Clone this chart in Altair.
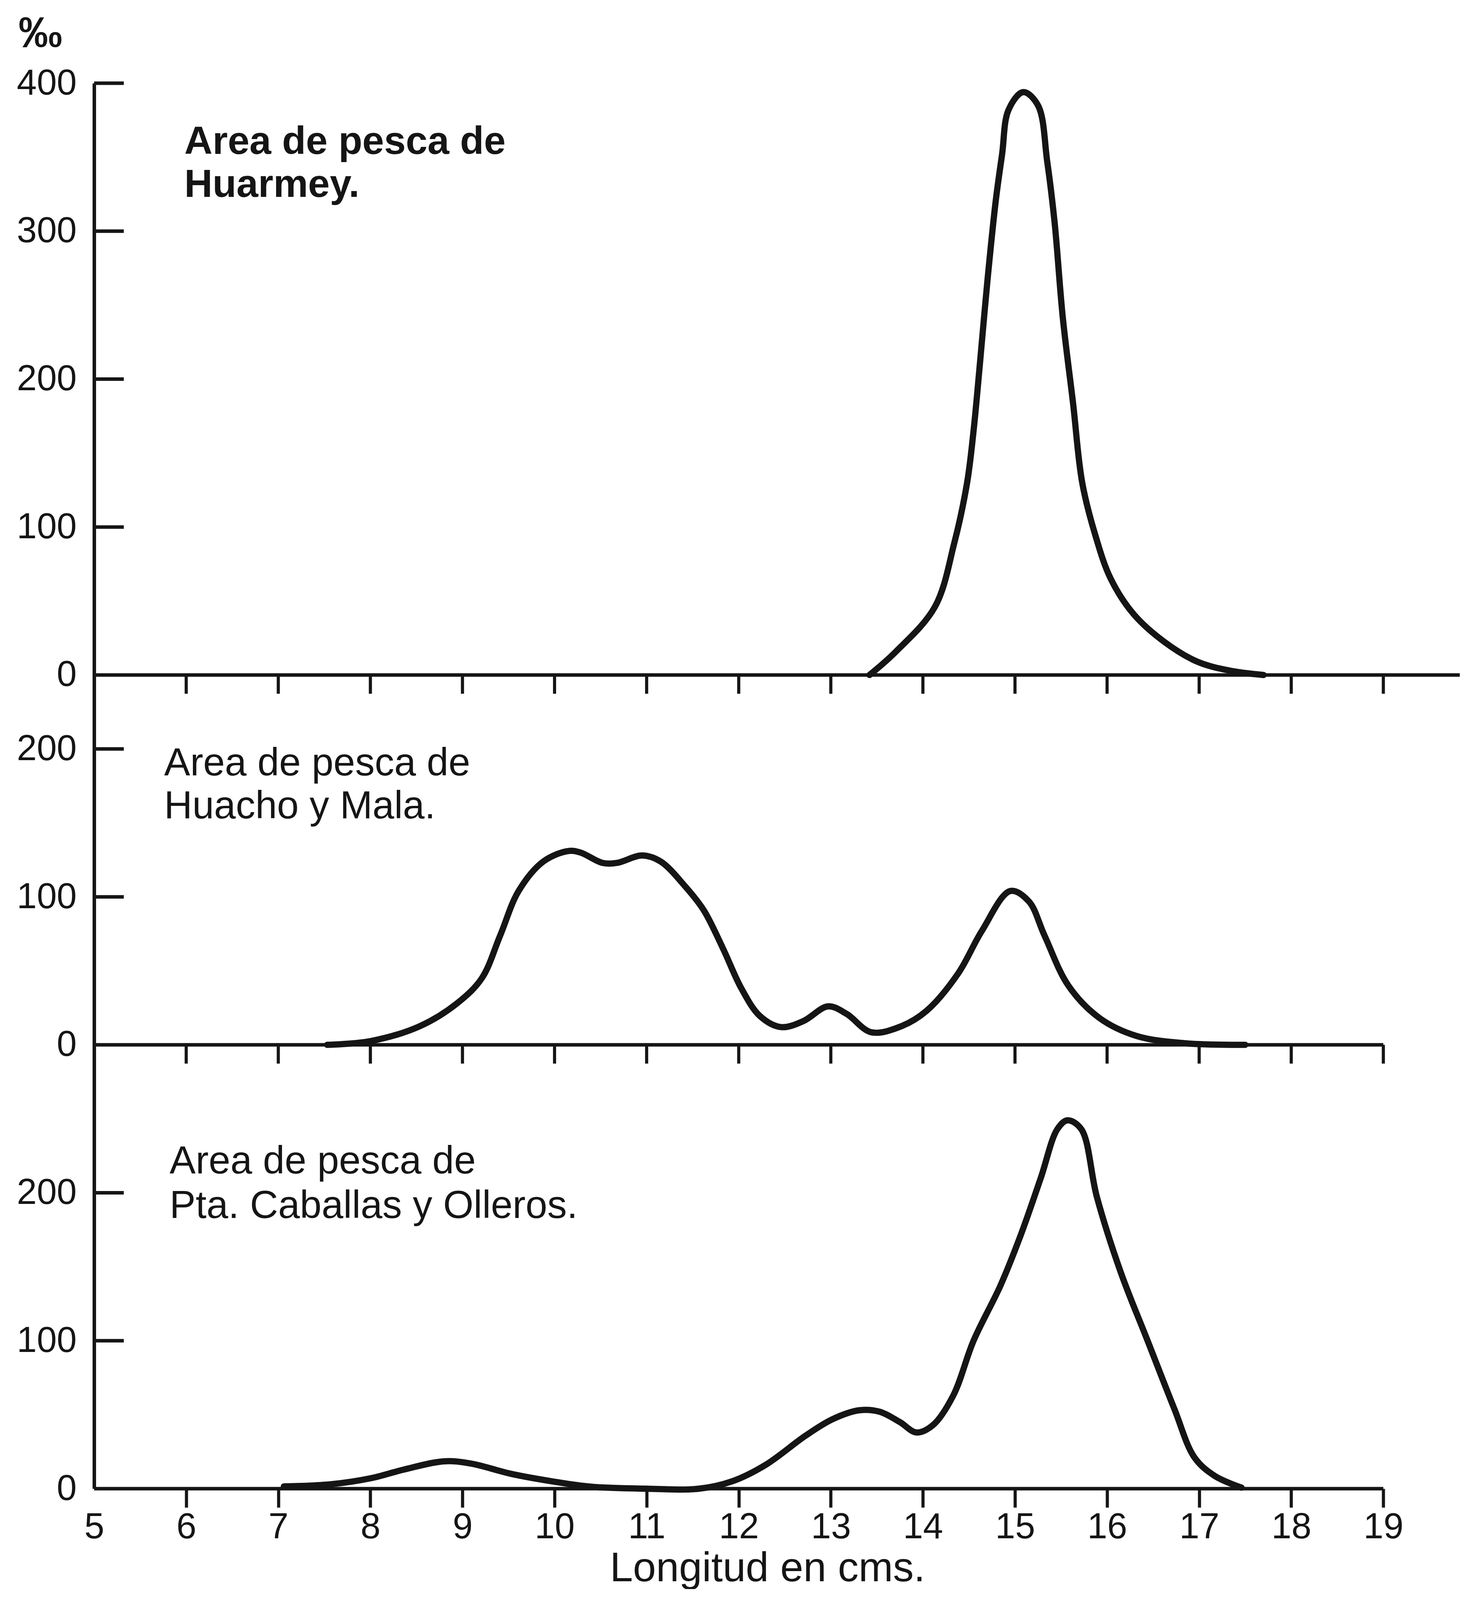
import altair as alt
import pandas as pd

# ---------------- data ----------------
x_tick_values = [5, 6, 7, 8, 9, 10, 11, 12, 13, 14, 15, 16, 17, 18, 19]

# Area de pesca de Huarmey
huarmey_x = [13.42, 13.71, 14.13, 14.34, 14.48, 14.55, 14.62, 14.70, 14.79, 14.86, 14.93,
             15.09, 15.25, 15.35, 15.43, 15.52, 15.63, 15.73, 15.87, 16.04, 16.29, 16.63,
             16.98, 17.33, 17.70]
huarmey_y = [0, 16, 46, 89, 130, 165, 211, 266, 320, 352, 382,
             394, 385, 347, 306, 241, 184, 130, 95, 65, 41, 22,
             9, 3, 0]
huarmey_yticks = [0, 100, 200, 300, 400]

# Area de pesca de Huacho y Mala
huacho_x = [7.53, 8.0, 8.54, 8.94, 9.21, 9.41, 9.61, 9.88, 10.15, 10.28, 10.52, 10.68,
            10.95, 11.15, 11.42, 11.62, 11.83, 12.03, 12.23, 12.46, 12.70, 12.97, 13.17,
            13.44, 13.77, 14.04, 14.38, 14.64, 14.95, 15.15, 15.32, 15.58, 15.92, 16.32,
            16.86, 17.50]
huacho_y = [0, 2.5, 12.7, 28, 45, 74, 104, 124, 131, 130, 123, 123,
            128, 124, 107, 91, 65, 38, 19.5, 12, 16, 26, 21,
            8.5, 12.7, 23, 48, 77, 104, 97, 74, 40, 18, 6,
            1, 0]
huacho_yticks = [0, 100, 200]

# Area de pesca de Pta. Caballas y Olleros
caballas_x = [7.06, 7.57, 8.0, 8.37, 8.80, 9.09, 9.53, 9.97, 10.40, 10.99, 11.57, 11.93,
              12.29, 12.73, 13.02, 13.31, 13.53, 13.75, 13.93, 14.11, 14.33, 14.55, 14.84,
              15.06, 15.28, 15.46, 15.57, 15.72, 15.89, 16.15, 16.44, 16.73, 16.95, 17.17,
              17.46]
caballas_y = [1.5, 3, 7, 13, 18.5, 17, 10, 5, 1.3, 0, 0, 5,
              16, 36, 47, 53, 52, 45, 38, 43, 63, 100, 137,
              171, 210, 243, 249, 243, 197, 146, 100, 54, 21, 8.6,
              0.7]
caballas_yticks = [0, 100, 200]

# three stacked panels: name, y offset of its baseline, x end of its baseline
panel_names = ["Huarmey", "Huacho y Mala", "Pta. Caballas y Olleros"]
panel_offsets = [550, 300, 0]
panel_x_end = [19.83, 19.0, 19.0]
panel_top = 950

# panel labels (text, x in cm, y in per mille of its own panel)
label_lines = ["Area de pesca de", "Huarmey.",
               "Area de pesca de", "Huacho y Mala.",
               "Area de pesca de", "Pta. Caballas y Olleros."]
label_panel = [0, 0, 1, 1, 2, 2]
label_x = [5.98, 5.98, 5.76, 5.76, 5.82, 5.82]
label_y = [360, 331, 190, 161, 221, 191]

x_title = "Longitud en cms."
y_title = "‰"

# ---------------- style ----------------
FONT = "Liberation Sans"
INK = "#151515"
V = 0.805                      # vertical compression so everything fits the capture
PX_PER_CM = 235.8
PX_PER_UNIT = 4.705 * V
TICK_LEN = 48
X_MAX = 19.83

# ---------------- tables ----------------
series = [(huarmey_x, huarmey_y), (huacho_x, huacho_y), (caballas_x, caballas_y)]
rows = []
for i, (xs, ys) in enumerate(series):
    for xv, yv in zip(xs, ys):
        rows.append({"panel": panel_names[i], "x": xv, "Y": yv + panel_offsets[i]})
curves = pd.DataFrame(rows)

y_axis_values = []
for i, ticks in enumerate([huarmey_yticks, huacho_yticks, caballas_yticks]):
    y_axis_values += [t + panel_offsets[i] for t in ticks]
y_axis_values = sorted(y_axis_values)
inner_ticks = pd.DataFrame({"Y": [v for v in y_axis_values if v not in panel_offsets]})

baselines = pd.DataFrame({"x": [5.0] * 3, "x2": panel_x_end, "Y": panel_offsets})

xt_rows = []
for off in panel_offsets:
    if off == 0:
        continue
    for xv in x_tick_values[1:]:
        xt_rows.append({"x": xv, "Y": off, "Y2": off - TICK_LEN / PX_PER_UNIT})
x_ticks_upper = pd.DataFrame(xt_rows)

labels = pd.DataFrame({
    "t": label_lines,
    "x": label_x,
    "Y": [label_y[k] + panel_offsets[label_panel[k]] for k in range(len(label_lines))],
    "bold": [label_panel[k] == 0 for k in range(len(label_lines))],
})

# ---------------- chart ----------------
xscale = alt.Scale(domain=[5, X_MAX], nice=False, zero=False)
yscale = alt.Scale(domain=[0, panel_top], nice=False, zero=True)

label_expr = ("datum.value >= {a} ? datum.value - {a} : "
              "(datum.value >= {b} ? datum.value - {b} : datum.value)").format(
    a=panel_offsets[0], b=panel_offsets[1])

x_axis = alt.Axis(
    values=x_tick_values, format="d", grid=False, domain=False,
    tickColor=INK, tickWidth=8, tickSize=TICK_LEN,
    tickOpacity={"condition": {"test": "datum.value === 5", "value": 0}, "value": 1},
    labelFont=FONT, labelFontSize=92, labelColor=INK, labelPadding=5,
    labelFlush=False, labelOverlap=False, labelLimit=500,
    titleFont=FONT, titleFontSize=106, titleFontWeight="normal", titleColor=INK,
    titleX=1724, titleY=236, titleAlign="center", titleBaseline="alphabetic",
    titleAnchor="start",
)
y_axis = alt.Axis(
    values=y_axis_values, labelExpr=label_expr, grid=False,
    domainColor=INK, domainWidth=9, ticks=False,
    labelFont=FONT, labelFontSize=92, labelColor=INK, labelPadding=45,
    labelFlush=False, labelOverlap=False, labelLimit=500,
    titleAngle=0, titleX=-138, titleY=-127, titleAlign="center",
    titleBaseline="middle", titleFont=FONT, titleFontSize=112,
    titleFontWeight="bold", titleColor=INK,
)

lines = alt.Chart(curves).mark_line(
    color=INK, strokeWidth=16, interpolate="catmull-rom",
    strokeCap="round", strokeJoin="round"
).encode(
    x=alt.X("x:Q", scale=xscale, axis=x_axis, title=x_title),
    y=alt.Y("Y:Q", scale=yscale, axis=y_axis, title=y_title),
    detail="panel:N",
)

base_rules = alt.Chart(baselines).mark_rule(color=INK, strokeWidth=9).encode(
    x=alt.X("x:Q", scale=xscale), x2="x2:Q", y=alt.Y("Y:Q", scale=yscale)
)

upper_ticks = alt.Chart(x_ticks_upper).mark_rule(color=INK, strokeWidth=8).encode(
    x=alt.X("x:Q", scale=xscale), y=alt.Y("Y:Q", scale=yscale), y2="Y2:Q"
)

y_inner = alt.Chart(inner_ticks).mark_rule(color=INK, strokeWidth=9).encode(
    y=alt.Y("Y:Q", scale=yscale), x=alt.value(0), x2=alt.value(76)
)

txt_bold = alt.Chart(labels[labels["bold"]]).mark_text(
    align="left", baseline="middle", font=FONT, fontSize=100,
    fontWeight="bold", color=INK
).encode(x=alt.X("x:Q", scale=xscale), y=alt.Y("Y:Q", scale=yscale), text="t:N")

txt_norm = alt.Chart(labels[~labels["bold"]]).mark_text(
    align="left", baseline="middle", font=FONT, fontSize=100,
    fontWeight="normal", color=INK
).encode(x=alt.X("x:Q", scale=xscale), y=alt.Y("Y:Q", scale=yscale), text="t:N")

chart = alt.layer(lines, base_rules, upper_ticks, y_inner, txt_bold, txt_norm).properties(
    width=round((X_MAX - 5) * PX_PER_CM),
    height=round(panel_top * PX_PER_UNIT),
    padding={"left": 34, "top": 22, "right": 0, "bottom": 0},
    background="white",
).configure_view(strokeWidth=0)

chart.save("out.html", embed_options={"renderer": "svg", "actions": False})
